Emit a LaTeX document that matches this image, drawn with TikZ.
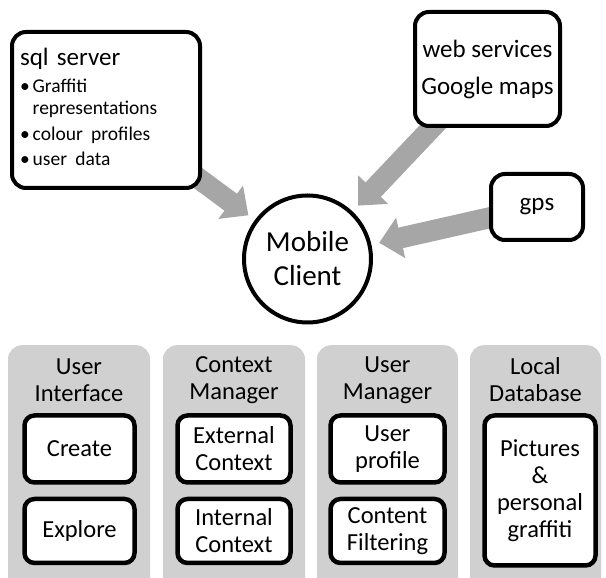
\documentclass[tikz,border=0pt]{standalone}
\usepackage{fontspec}
\setmainfont{Carlito}
\usetikzlibrary{arrows.meta,backgrounds,positioning}
\definecolor{Shelf}{HTML}{D0D0D0}
\definecolor{Feed}{HTML}{A6A6A6}

\begin{document}
\begin{tikzpicture}[x=1pt,y=1pt,
    src/.style={draw,line width=4pt,rounded corners=14pt,fill=white,align=center,
      font=\fontsize{25}{37}\selectfont},
    part/.style={draw,line width=4.5pt,rounded corners=10pt,fill=white,align=center,
      inner sep=0pt,font=\fontsize{24.5}{27}\selectfont},
    shelf/.style={fill=Shelf,rounded corners=14pt,anchor=north,minimum height=260pt},
    shelftitle/.style={align=center,font=\fontsize{24.5}{27}\selectfont},
    feed/.style={line width=21pt,draw=Feed,-{Triangle[length=22pt,width=40pt]},shorten >=8pt}]
    \useasboundingbox (0,0) rectangle (606,578);
    % data sources
    \node[src,align=left,text width=172pt,inner xsep=8pt,minimum height=156pt] (sql) at (106,468) {%
      {\fontsize{25}{30}\selectfont sql server}\par\vspace{7pt}
      \fontsize{19.5}{22}\selectfont
      \begin{tabular}{@{}l@{\hspace{3pt}}l@{}}
        \textbullet & Graffiti\\
                    & representations\\[3.5pt]
        \textbullet & colour profiles\\[3.5pt]
        \textbullet & user data
      \end{tabular}};
    \node[src,minimum width=145pt,minimum height=114pt] (web) at (487.5,509) {web services\\Google maps};
    \node[src,minimum width=92pt,minimum height=66pt] (gps) at (537,371) {gps};
    \node[circle,draw,line width=4pt,fill=white,minimum size=127pt,align=center,
      font=\fontsize{29}{34}\selectfont] (client) at (307.5,319) {Mobile\\Client};
    \begin{scope}[on background layer]
      \draw[feed] (sql.center) -- (client);
      \draw[feed] (web.center) -- (client);
      \draw[feed] (gps.center) -- (client);
    \end{scope}
    % modules of the client
    \node[shelf,minimum width=142pt] (ui) at (79,233) {};
    \node[shelf,minimum width=142pt] (ctx) at (234,233) {};
    \node[shelf,minimum width=141pt] (usr) at (387.5,233) {};
    \node[shelf,minimum width=131pt] (db) at (535.5,233) {};
    \node[shelftitle] (uiT) at ([yshift=-35pt]ui.north) {User\\Interface};
    \node[shelftitle] (ctxT) at ([yshift=-35pt]ctx.north) {Context\\Manager};
    \node[shelftitle] (usrT) at ([yshift=-35pt]usr.north) {User\\Manager};
    \node[shelftitle] (dbT) at ([yshift=-35pt]db.north) {Local\\Database};
    \node[part,minimum width=110pt,minimum height=67pt] (create) at (79.5,129) {Create};
    \node[part,minimum width=110pt,minimum height=64pt] (explore) at (79.5,47) {Explore};
    \node[part,minimum width=113pt,minimum height=67pt] (ext) at (234,129) {External\\Context};
    \node[part,minimum width=113pt,minimum height=64pt] (int) at (234,47) {Internal\\Context};
    \node[part,minimum width=114pt,minimum height=67pt] (prof) at (387.5,129) {User\\profile};
    \node[part,minimum width=114pt,minimum height=64pt] (filt) at (387.5,47) {Content\\Filtering};
    \node[part,minimum width=111pt,minimum height=150pt] (pics) at (540,87.5) {Pictures\\\&\\personal\\graffiti};
\end{tikzpicture}
\end{document}
